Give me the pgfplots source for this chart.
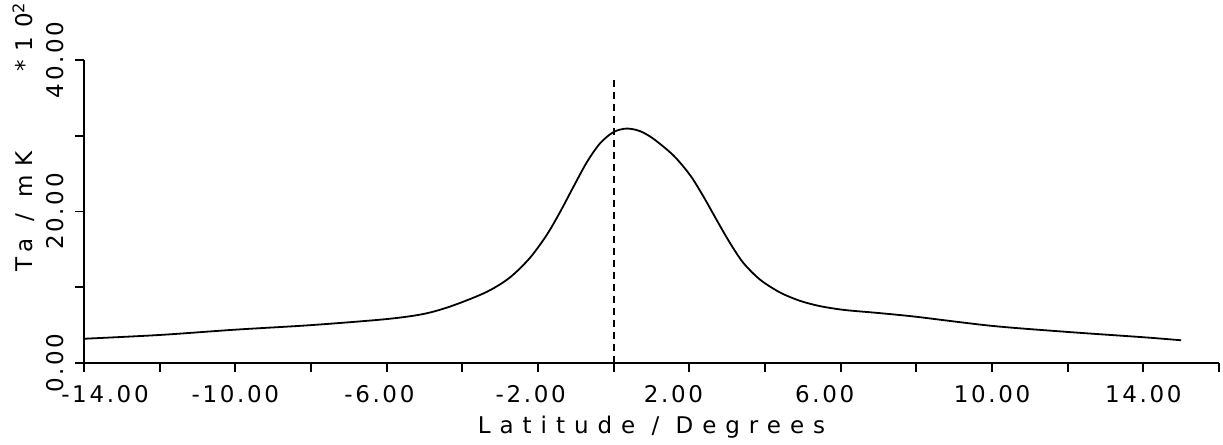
\documentclass[border=0pt]{standalone}
\usepackage{fontspec}
\setmainfont{DejaVu Sans}
\newfontfamily\tickfont[LetterSpace=11.5]{DejaVu Sans}
\newfontfamily\labfont[LetterSpace=39]{DejaVu Sans}
\usepackage{pgfplots}
\pgfplotsset{compat=1.18}

\newcommand\tickfnt{\tickfont\fontsize{11.5}{13}\selectfont}
\newcommand\labfnt{\labfont\fontsize{11.5}{13}\selectfont}

\begin{document}
\begin{tikzpicture}
\begin{axis}[
  scale only axis,
  width=567.5pt, height=151.5pt,
  xmin=-14, xmax=16, ymin=0, ymax=40,
  axis lines=left,
  axis line style={-, line width=0.9pt},
  tick align=outside,
  major tick length=4.5pt,
  tick style={line width=0.9pt, black},
  xtick={-14,-12,...,16},
  xticklabels={\hspace*{21pt}-14.00,,-10.00,,-6.00\hphantom{0},,-2.00\hphantom{0},,
    2.00\hphantom{00},,6.00\hphantom{00},,10.00,,14.00,},
  ytick={0,10,20,30,40},
  yticklabels={0.00,,20.00,,40.00},
  xticklabel style={font=\tickfnt},
  yticklabel style={font=\tickfnt, rotate=90, anchor=south},
  xticklabel shift=3pt,
  yticklabel shift=2pt,
  xlabel={Latitude / Degrees},
  ylabel={Ta / mK},
  xlabel style={font=\labfnt,
    at={([yshift=-35pt]axis description cs:0.5,0)}, anchor=base},
  ylabel style={font=\labfnt,
    at={([xshift=-25.5pt]axis description cs:0,0.5)}, anchor=base},
  clip=false,
]
% antenna temperature across the latitude scan
\addplot[black, line width=0.9pt, smooth, tension=0.5] table {
x y
-14 3.2
-12 3.7
-10 4.4
-8 5.0
-6 5.8
-5 6.5
-4.24 7.6
-3.35 9.4
-2.74 11.3
-2.21 13.9
-1.77 16.9
-1.42 19.9
-1.07 23.2
-0.71 26.5
-0.36 29.0
0 30.5
0.35 30.95
0.7 30.6
1.05 29.6
1.58 27.4
2.02 24.8
2.37 22.0
2.72 18.9
3.08 15.8
3.43 13.2
3.87 11.0
4.40 9.3
4.93 8.2
5.46 7.5
6.1 7.0
7 6.6
8 6.1
10 4.9
12 4.1
14 3.4
15 3.0
};
% galactic plane
\addplot[black, line width=0.9pt, dash pattern=on 3.5pt off 2.5pt] coordinates {(0,0) (0,38)};
\node[font=\labfnt, rotate=90, anchor=base]
  at ([xshift=-25.5pt]axis description cs:0,1.076) {*10\textsuperscript{2}};
\coordinate (O) at (rel axis cs:0,0);
\coordinate (T) at (rel axis cs:1,1);
\end{axis}
\pgfresetboundingbox
\path ([shift={(-42pt,-40.5pt)}]O) rectangle ([shift={(2pt,30pt)}]T);
\end{tikzpicture}
\end{document}
